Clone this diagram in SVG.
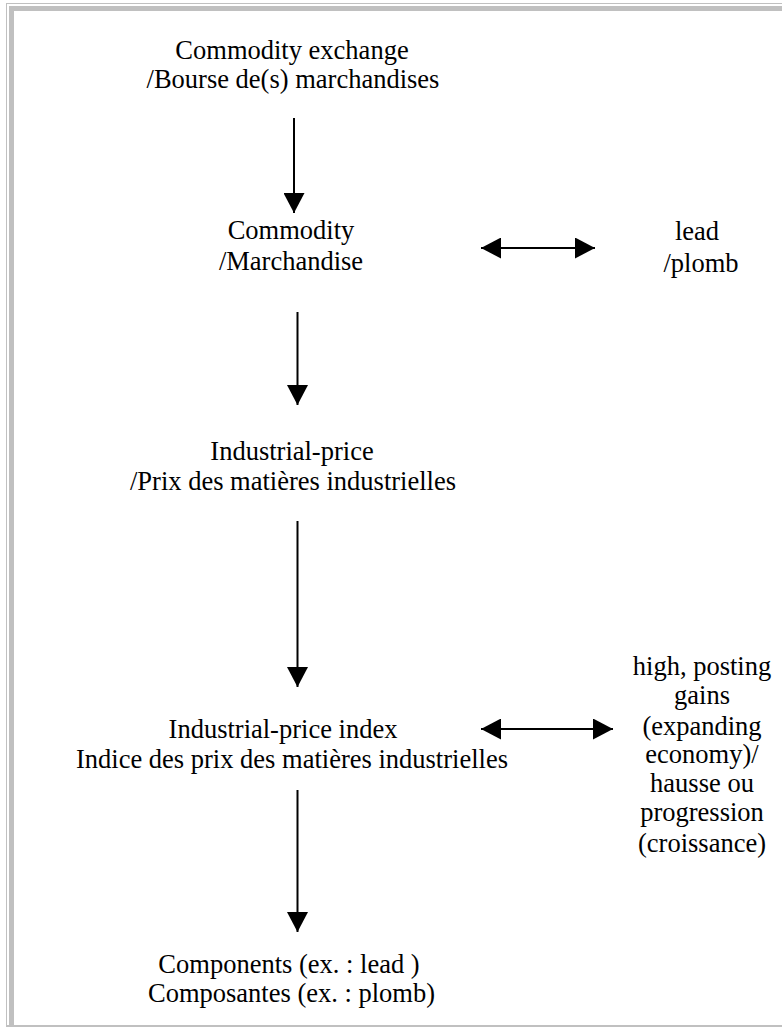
<svg xmlns="http://www.w3.org/2000/svg" width="782" height="1027" viewBox="0 0 782 1027">
<style>
text{font-family:"Liberation Serif","Times New Roman",serif;font-size:26.5px;fill:#000;text-anchor:middle}
.frame{fill:#c0c0c0}
.conn{stroke:#000;stroke-width:2;fill:none}
</style>
<defs>
<marker id="ah" markerUnits="userSpaceOnUse" markerWidth="20" markerHeight="21" refX="20" refY="10.5" orient="auto-start-reverse" viewBox="0 0 20 21">
<path d="M0,0 L20,10.5 L0,21 Z" fill="#000"/>
</marker>
</defs>
<rect width="782" height="1027" fill="#fff"/>
<g id="frame">
<rect class="frame" x="6" y="3" width="776" height="1"/>
<rect class="frame" x="6" y="3" width="1" height="1024"/>
<rect class="frame" x="9" y="6" width="773" height="5"/>
<rect class="frame" x="9" y="6" width="5" height="1021"/>
<rect class="frame" x="6" y="1025" width="776" height="2"/>
</g>
<g id="connectors">
<line class="conn" x1="294" y1="118" x2="294" y2="213" marker-end="url(#ah)"/>
<line class="conn" x1="297.5" y1="312" x2="297.5" y2="405" marker-end="url(#ah)"/>
<line class="conn" x1="297.5" y1="521" x2="297.5" y2="687" marker-end="url(#ah)"/>
<line class="conn" x1="297.5" y1="790" x2="297.5" y2="932" marker-end="url(#ah)"/>
<line class="conn" x1="481" y1="248" x2="595" y2="248" marker-start="url(#ah)" marker-end="url(#ah)"/>
<line class="conn" x1="481" y1="729" x2="613" y2="729" marker-start="url(#ah)" marker-end="url(#ah)"/>
</g>
<g id="node-exchange">
<text x="292" y="59">Commodity exchange</text>
<text x="293" y="88">/Bourse de(s) marchandises</text>
</g>
<g id="node-commodity">
<text x="291" y="239">Commodity</text>
<text x="291" y="270">/Marchandise</text>
</g>
<g id="node-lead">
<text x="697" y="240">lead</text>
<text x="701" y="272">/plomb</text>
</g>
<g id="node-industrial-price">
<text x="292" y="460">Industrial-price</text>
<text x="293" y="490">/Prix des matières industrielles</text>
</g>
<g id="node-index">
<text x="283" y="738">Industrial-price index</text>
<text x="292" y="768">Indice des prix des matières industrielles</text>
</g>
<g id="node-high">
<text x="702" y="675">high, posting</text>
<text x="702" y="704">gains</text>
<text x="702" y="735">(expanding</text>
<text x="702" y="763">economy)/</text>
<text x="702" y="792">hausse ou</text>
<text x="702" y="821">progression</text>
<text x="702" y="852">(croissance)</text>
</g>
<g id="node-components">
<text x="289" y="973">Components (ex. : lead )</text>
<text x="291.5" y="1002">Composantes (ex. : plomb)</text>
</g>
</svg>
